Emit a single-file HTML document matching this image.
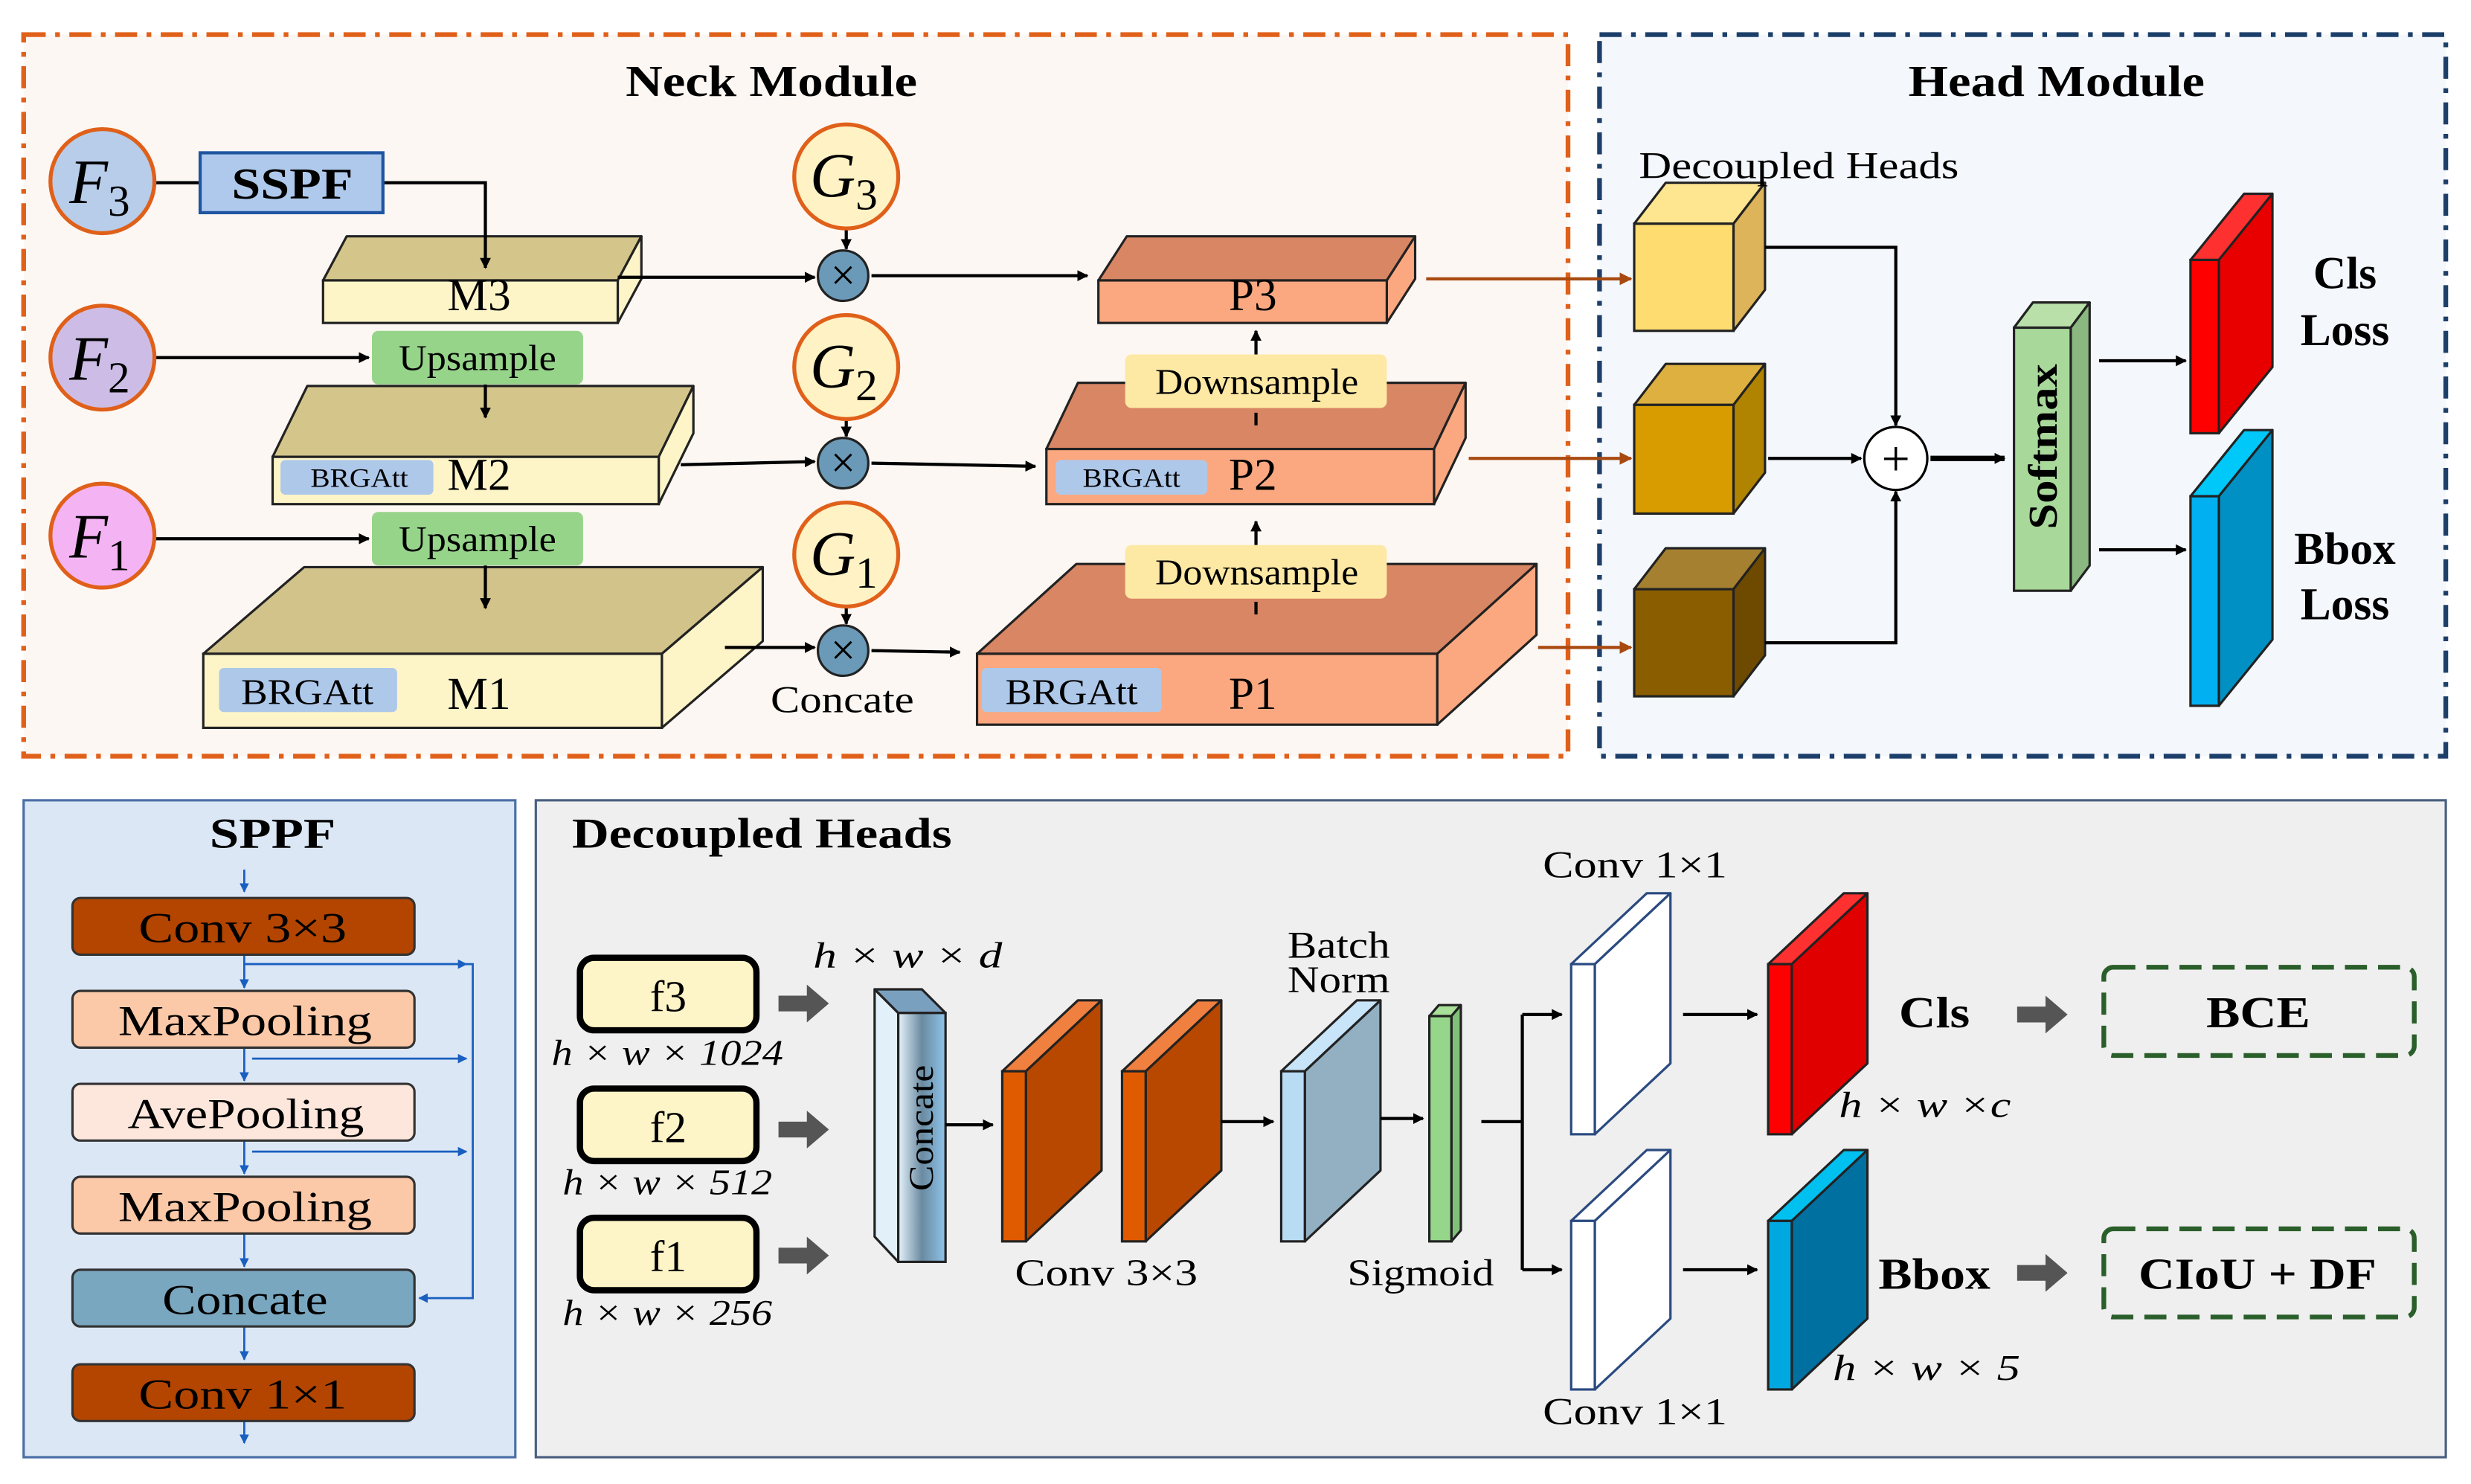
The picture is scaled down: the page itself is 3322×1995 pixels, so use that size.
<!DOCTYPE html>
<html><head><meta charset="utf-8"><style>
html,body{margin:0;padding:0;background:#fff;}
svg{display:block;}
text{font-family:"Liberation Serif",serif;}
</style></head><body>
<svg id="s" xmlns="http://www.w3.org/2000/svg" width="3322" height="1995" viewBox="0 0 1568 942" preserveAspectRatio="none">
<defs>
<marker id="a" viewBox="0 0 10 10" refX="9" refY="5" markerWidth="7" markerHeight="7" orient="auto" markerUnits="userSpaceOnUse"><path d="M0,0L10,5L0,10z" fill="#000"/></marker>
<marker id="ab" viewBox="0 0 10 10" refX="9" refY="5" markerWidth="6" markerHeight="6" orient="auto" markerUnits="userSpaceOnUse"><path d="M0,0L10,5L0,10z" fill="#1a5fc0"/></marker>
<marker id="ao" viewBox="0 0 10 10" refX="9" refY="5" markerWidth="8" markerHeight="8" orient="auto" markerUnits="userSpaceOnUse"><path d="M0,0L10,5L0,10z" fill="#a84a10"/></marker>
<linearGradient id="cg" x1="0" x2="1"><stop offset="0" stop-color="#e4f2fb"/><stop offset="0.5" stop-color="#6a8aa0"/><stop offset="1" stop-color="#8ec4ea"/></linearGradient>
</defs>
<rect x="15" y="22" width="980" height="458" fill="#fdf7f3" stroke="#e0601a" stroke-width="3" stroke-dasharray="14,6,3,6"/>
<rect x="1015" y="22" width="537" height="458" fill="#f4f7fc" stroke="#1c3f6a" stroke-width="3" stroke-dasharray="14,6,3,6"/>
<rect x="15" y="508" width="312" height="417" fill="#dbe7f5" stroke="#4a6fa5" stroke-width="1.5"/>
<rect x="340" y="508" width="1212" height="417" fill="#efefef" stroke="#4a6080" stroke-width="1.5"/>
<g id="shapes"></g>
<g stroke="#000" stroke-width="2" fill="none">
<path d="M98,116H127"/>
<path d="M243,116H308V170" marker-end="url(#a)"/>
<path d="M98,227H234" marker-end="url(#a)"/>
<path d="M98,342H234" marker-end="url(#a)"/>
<path d="M308,244V265" marker-end="url(#a)"/>
<path d="M308,358V386" marker-end="url(#a)"/>
<path d="M392,176H517" marker-end="url(#a)"/>
<path d="M432,295L517,293" marker-end="url(#a)"/>
<path d="M460,411L517,411" marker-end="url(#a)"/>
<path d="M537,143V158" marker-end="url(#a)"/>
<path d="M537,266V277" marker-end="url(#a)"/>
<path d="M537,385V396" marker-end="url(#a)"/>
<path d="M553,175H690" marker-end="url(#a)"/>
<path d="M553,294L657,296" marker-end="url(#a)"/>
<path d="M553,413L609,414" marker-end="url(#a)"/>
<path d="M797,225V210" marker-end="url(#a)"/>
<path d="M797,346V331" marker-end="url(#a)"/>
<path d="M797,270V262"/><path d="M797,390V382"/>
<path d="M1120,157H1203V270" marker-end="url(#a)"/>
<path d="M1122,291H1181" marker-end="url(#a)"/>
<path d="M1120,408H1203V312" marker-end="url(#a)"/>
<path d="M1225,291H1272" stroke-width="3.5" marker-end="url(#a)"/>
<path d="M1332,229H1387" marker-end="url(#a)"/>
<path d="M1332,349H1387" marker-end="url(#a)"/>
<path d="M600,714H630" marker-end="url(#a)"/>
<path d="M775,712H808" marker-end="url(#a)"/>
<path d="M876,710H903" marker-end="url(#a)"/>
<path d="M940,712H966M966,644V806" />
<path d="M966,644H991" marker-end="url(#a)"/><path d="M966,806H991" marker-end="url(#a)"/>
<path d="M1068,644H1115" marker-end="url(#a)"/>
<path d="M1068,806H1115" marker-end="url(#a)"/>
</g>
<g stroke="#a84a10" stroke-width="2" fill="none">
<path d="M905,177H1035" marker-end="url(#ao)"/>
<path d="M932,291H1035" marker-end="url(#ao)"/>
<path d="M976,411H1035" marker-end="url(#ao)"/>
</g>
<g stroke="#1a5fc0" stroke-width="1.3" fill="none">
<path d="M155,552V566" marker-end="url(#ab)"/>
<path d="M155,606V627" marker-end="url(#ab)"/>
<path d="M155,665V686" marker-end="url(#ab)"/>
<path d="M155,724V745" marker-end="url(#ab)"/>
<path d="M155,783V804" marker-end="url(#ab)"/>
<path d="M155,842V863" marker-end="url(#ab)"/>
<path d="M155,902V916" marker-end="url(#ab)"/>
<path d="M155,612H300V824H266" marker-end="url(#ab)"/>
<path d="M155,612H296" marker-end="url(#ab)"/>
<path d="M160,672H296" marker-end="url(#ab)"/>
<path d="M160,731H296" marker-end="url(#ab)"/>
</g>
<g fill="#555">
<path d="M494,632h18v-7l14,12l-14,12v-7h-18z"/>
<path d="M494,712h18v-7l14,12l-14,12v-7h-18z"/>
<path d="M494,792h18v-7l14,12l-14,12v-7h-18z"/>
<path d="M1280,639h18v-7l14,12l-14,12v-7h-18z"/>
<path d="M1280,803h18v-7l14,12l-14,12v-7h-18z"/>
</g>
</svg>
<script>
var NS="http://www.w3.org/2000/svg";
var g=document.getElementById('shapes');
function el(t,a,p){var e=document.createElementNS(NS,t);for(var k in a)e.setAttribute(k,a[k]);(p||g).appendChild(e);return e;}
function poly(pts,f,sc){el('polygon',{points:pts.map(function(p){return p.join(',')}).join(' '),fill:f,stroke:sc||'#222','stroke-width':1.5,'stroke-linejoin':'round'});}
function box(x,y,w,h,dx,dy,front,top,side,sc){
 poly([[x,y],[x+w,y],[x+w+dx,y-dy],[x+dx,y-dy]],top,sc);
 poly([[x+w,y],[x+w+dx,y-dy],[x+w+dx,y+h-dy],[x+w,y+h]],side,sc);
 el('rect',{x:x,y:y,width:w,height:h,fill:front,stroke:sc||'#222','stroke-width':1.5});
}
box(205,178,187,27,15,28,'#fdf5c8','#d4c68a','#fdf5c8');
box(173,290,245,30,22,45,'#fdf5c8','#d4c68a','#fdf5c8');
box(129,415,291,47,64,55,'#fdf5c8','#d1c38a','#fdf5c8');
box(697,178,183,27,18,28,'#fba880','#d98664','#fba880');
box(664,285,246,35,20,42,'#fba880','#d98664','#fba880');
box(620,415,292,45,63,57,'#fba880','#d98664','#fba880');
box(1037,142,63,68,20,26,'#fedc70','#fee590','#ddb45a');
box(1037,257,63,69,20,26,'#d89c00','#ddb040','#b08300');
box(1037,374,63,68,20,26,'#8a5e00','#a58030','#6d4a00');
box(1278,208,36,167,12,16,'#a8d89a','#b8e0a8','#8ab880');
box(1390,165,18,110,34,42,'#ff0000','#ff3030','#e80000');
box(1390,315,18,133,34,42,'#00b0f0','#00c8f8','#0090c4');
box(636,680,15,108,48,45,'#e05a00','#f08040','#b84800');
box(712,680,15,108,48,45,'#e05a00','#f08040','#b84800');
box(813,680,15,108,48,45,'#b8dcf4','#c8e4f8','#92b0c2');
box(907,645,14,143,6,7,'#96d68a','#a8e09a','#80c078');
box(997,612,15,108,48,45,'#fff','#fff','#fff','#2a4a80');
box(997,775,15,107,48,45,'#fff','#fff','#fff','#2a4a80');
box(1122,612,15,108,48,45,'#ff0000','#ff3030','#e00000');
box(1122,775,15,107,48,45,'#00a8e0','#00c0f0','#0070a0');
poly([[555,628],[570,643],[570,801],[555,785]],'#e2f0fa');
poly([[555,628],[585,628],[600,643],[570,643]],'#7aa0c0');
el('rect',{x:570,y:643,width:30,height:158,fill:'url(#cg)',stroke:'#222','stroke-width':1.5});
</script>
<svg style="position:absolute;left:0;top:0" width="3322" height="1995" viewBox="0 0 1568 942" preserveAspectRatio="none">
<g font-family="Liberation Serif, serif">
<g font-weight="bold">
<text x="397" y="61" font-size="28" textLength="185" lengthAdjust="spacingAndGlyphs">Neck Module</text>
<text x="1211" y="61" font-size="28" textLength="188" lengthAdjust="spacingAndGlyphs">Head Module</text>
<text x="133" y="538" font-size="27" textLength="80" lengthAdjust="spacingAndGlyphs">SPPF</text>
<text x="363" y="538" font-size="27" textLength="241" lengthAdjust="spacingAndGlyphs">Decoupled Heads</text>
</g>
<text x="1040" y="113" font-size="24" textLength="203" lengthAdjust="spacingAndGlyphs">Decoupled  Heads</text>
<g stroke="#e0601a" stroke-width="2.5">
<circle cx="65" cy="115" r="33" fill="#b7cdea"/>
<circle cx="65" cy="227" r="33" fill="#cdbde6"/>
<circle cx="65" cy="340" r="33" fill="#f4b4f4"/>
<circle cx="537" cy="112" r="33" fill="#fff2c4"/>
<circle cx="537" cy="233" r="33" fill="#fff2c4"/>
<circle cx="537" cy="352" r="33" fill="#fff2c4"/>
</g>
<g font-size="40" font-style="italic">
<text x="44" y="129">F<tspan font-size="28" dy="8" font-style="normal">3</tspan></text>
<text x="44" y="241">F<tspan font-size="28" dy="8" font-style="normal">2</tspan></text>
<text x="44" y="354">F<tspan font-size="28" dy="8" font-style="normal">1</tspan></text>
<text x="514" y="125">G<tspan font-size="28" dy="8" font-style="normal">3</tspan></text>
<text x="514" y="246">G<tspan font-size="28" dy="8" font-style="normal">2</tspan></text>
<text x="514" y="365">G<tspan font-size="28" dy="8" font-style="normal">1</tspan></text>
</g>
<g fill="#6b9ab8" stroke="#222" stroke-width="1.5">
<circle cx="535" cy="175" r="16"/><circle cx="535" cy="294" r="16"/><circle cx="535" cy="413" r="16"/>
</g>
<g font-size="28" text-anchor="middle"><text x="535" y="184">×</text><text x="535" y="303">×</text><text x="535" y="422">×</text></g>
<circle cx="1203" cy="291" r="20" fill="#fff" stroke="#000" stroke-width="1.5"/>
<text x="1203" y="302" font-size="32" text-anchor="middle">+</text>
<rect x="127" y="97" width="116" height="38" fill="#afc9ec" stroke="#1f55a0" stroke-width="2"/>
<text x="147" y="126" font-size="28" font-weight="bold" textLength="77" lengthAdjust="spacingAndGlyphs">SSPF</text>
<rect x="236" y="210" width="134" height="34" rx="4" fill="#96d48a"/>
<rect x="236" y="325" width="134" height="34" rx="4" fill="#96d48a"/>
<text x="253" y="235" font-size="23" textLength="100" lengthAdjust="spacingAndGlyphs">Upsample</text>
<text x="253" y="350" font-size="23" textLength="100" lengthAdjust="spacingAndGlyphs">Upsample</text>
<rect x="714" y="225" width="166" height="34" rx="4" fill="#fde9a4"/>
<rect x="714" y="346" width="166" height="34" rx="4" fill="#fde9a4"/>
<text x="733" y="250" font-size="23" textLength="129" lengthAdjust="spacingAndGlyphs">Downsample</text>
<text x="733" y="371" font-size="23" textLength="129" lengthAdjust="spacingAndGlyphs">Downsample</text>
<g fill="#aec8ea"><rect x="178" y="292" width="97" height="22" rx="3"/><rect x="139" y="424" width="113" height="28" rx="3"/><rect x="670" y="292" width="96" height="22" rx="3"/><rect x="623" y="424" width="114" height="28" rx="3"/></g>
<g font-size="17"><text x="197" y="309" textLength="62" lengthAdjust="spacingAndGlyphs">BRGAtt</text><text x="687" y="309" textLength="62" lengthAdjust="spacingAndGlyphs">BRGAtt</text></g>
<g font-size="23"><text x="153" y="447" textLength="84" lengthAdjust="spacingAndGlyphs">BRGAtt</text><text x="638" y="447" textLength="84" lengthAdjust="spacingAndGlyphs">BRGAtt</text></g>
<g font-size="29" text-anchor="middle">
<text x="304" y="197">M3</text><text x="304" y="311">M2</text><text x="304" y="450">M1</text>
<text x="795" y="197">P3</text><text x="795" y="311">P2</text><text x="795" y="450">P1</text>
</g>
<text x="489" y="452" font-size="24" textLength="91" lengthAdjust="spacingAndGlyphs">Concate</text>
<text x="0" y="0" font-size="26" font-weight="bold" textLength="105" lengthAdjust="spacingAndGlyphs" transform="translate(1305 336) rotate(-90)">Softmax</text>
<g font-size="29" font-weight="bold" text-anchor="middle"><text x="1488" y="183">Cls</text><text x="1488" y="219">Loss</text><text x="1488" y="358">Bbox</text><text x="1488" y="393">Loss</text></g>
<g stroke="#333" stroke-width="1.5">
<rect x="46" y="570" width="217" height="36" rx="5" fill="#b34500"/>
<rect x="46" y="629" width="217" height="36" rx="5" fill="#fcc9a8"/>
<rect x="46" y="688" width="217" height="36" rx="5" fill="#fde7dc"/>
<rect x="46" y="747" width="217" height="36" rx="5" fill="#fcc9a8"/>
<rect x="46" y="806" width="217" height="36" rx="5" fill="#7aa7c0"/>
<rect x="46" y="866" width="217" height="36" rx="5" fill="#b34500"/>
</g>
<g font-size="27" lengthAdjust="spacingAndGlyphs">
<text x="88" y="598" textLength="132" lengthAdjust="spacingAndGlyphs">Conv 3×3</text>
<text x="75" y="657" textLength="161" lengthAdjust="spacingAndGlyphs">MaxPooling</text>
<text x="81" y="716" textLength="150" lengthAdjust="spacingAndGlyphs">AvePooling</text>
<text x="75" y="775" textLength="161" lengthAdjust="spacingAndGlyphs">MaxPooling</text>
<text x="103" y="834" textLength="105" lengthAdjust="spacingAndGlyphs">Concate</text>
<text x="88" y="894" textLength="132" lengthAdjust="spacingAndGlyphs">Conv 1×1</text>
</g>
<g fill="#fdf5c8" stroke="#000" stroke-width="4"><rect x="368" y="608" width="112" height="46" rx="9"/><rect x="368" y="691" width="112" height="46" rx="9"/><rect x="368" y="773" width="112" height="46" rx="9"/></g>
<g font-size="28" text-anchor="middle"><text x="424" y="642">f3</text><text x="424" y="725">f2</text><text x="424" y="807">f1</text></g>
<g font-size="23" font-style="italic">
<text x="350" y="676" textLength="147" lengthAdjust="spacingAndGlyphs">h × w × 1024</text>
<text x="357" y="758" textLength="133" lengthAdjust="spacingAndGlyphs">h × w × 512</text>
<text x="357" y="841" textLength="133" lengthAdjust="spacingAndGlyphs">h × w × 256</text>
<text x="516" y="614" textLength="120" lengthAdjust="spacingAndGlyphs">h × w × d</text>
<text x="1167" y="709" textLength="109" lengthAdjust="spacingAndGlyphs">h × w ×c</text>
<text x="1163" y="876" textLength="119" lengthAdjust="spacingAndGlyphs">h × w × 5</text>
</g>
<text x="0" y="0" font-size="22" textLength="80" lengthAdjust="spacingAndGlyphs" transform="translate(592 756) rotate(-90)">Concate</text>
<g font-size="24">
<text x="644" y="816" textLength="116" lengthAdjust="spacingAndGlyphs">Conv 3×3</text>
<text x="817" y="608" textLength="65" lengthAdjust="spacingAndGlyphs">Batch</text>
<text x="817" y="630" textLength="65" lengthAdjust="spacingAndGlyphs">Norm</text>
<text x="855" y="816" textLength="93" lengthAdjust="spacingAndGlyphs">Sigmoid</text>
<text x="979" y="557" textLength="117" lengthAdjust="spacingAndGlyphs">Conv 1×1</text>
<text x="979" y="904" textLength="117" lengthAdjust="spacingAndGlyphs">Conv 1×1</text>
</g>
<g font-size="28" font-weight="bold">
<text x="1205" y="652" textLength="45" lengthAdjust="spacingAndGlyphs">Cls</text>
<text x="1192" y="818" textLength="71" lengthAdjust="spacingAndGlyphs">Bbox</text>
<text x="1400" y="652" textLength="66" lengthAdjust="spacingAndGlyphs">BCE</text>
<text x="1357" y="818" textLength="151" lengthAdjust="spacingAndGlyphs">CIoU + DF</text>
</g>
<g fill="none" stroke="#2a5e2a" stroke-width="3" stroke-dasharray="14,7"><rect x="1335" y="614" width="197" height="56" rx="6"/><rect x="1335" y="780" width="197" height="56" rx="6"/></g>
</g>
</svg>
</body></html>
